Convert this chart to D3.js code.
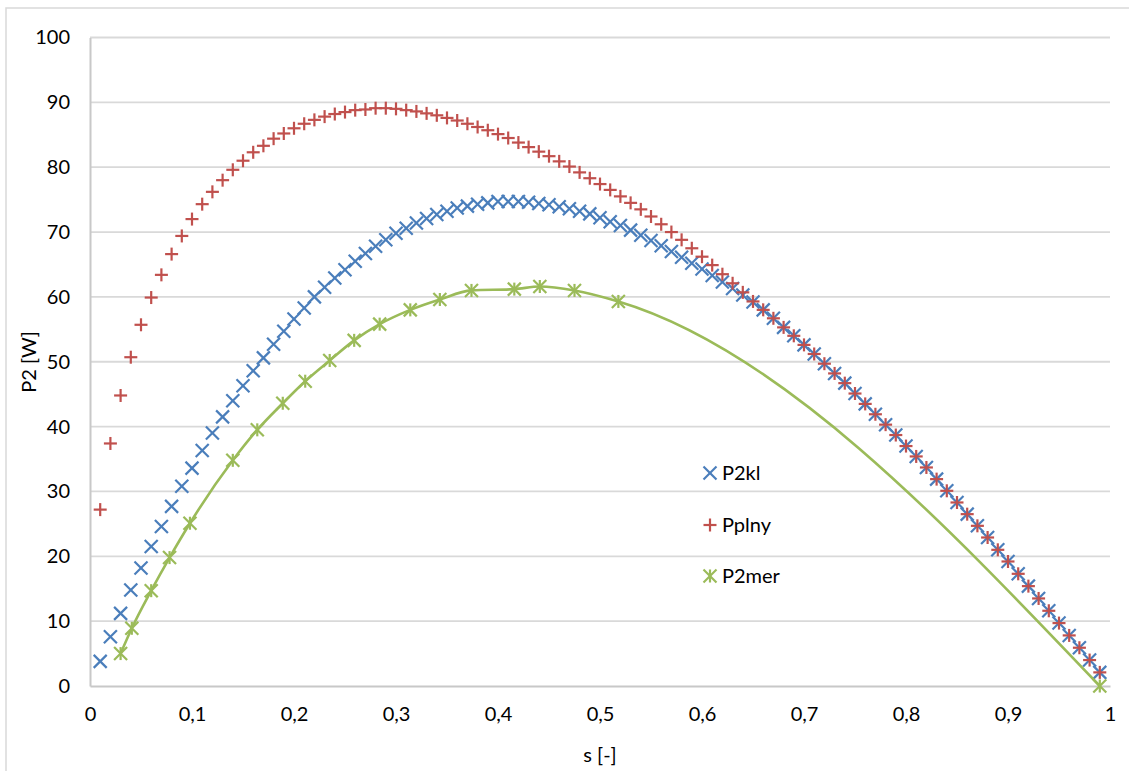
<!DOCTYPE html>
<html><head><meta charset="utf-8">
<script src="https://cdn.jsdelivr.net/npm/d3@7"></script>
<style>body{margin:0;background:#fff}svg{display:block}</style>
</head><body>
<svg id="chart" width="1129" height="771"></svg>
<script>
// ---- data ----
const sValues = [0.01,0.02,0.03,0.04,0.05,0.06,0.07,0.08,0.09,0.10,0.11,0.12,0.13,0.14,0.15,0.16,0.17,0.18,0.19,0.20,
0.21,0.22,0.23,0.24,0.25,0.26,0.27,0.28,0.29,0.30,0.31,0.32,0.33,0.34,0.35,0.36,0.37,0.38,0.39,0.40,
0.41,0.42,0.43,0.44,0.45,0.46,0.47,0.48,0.49,0.50,0.51,0.52,0.53,0.54,0.55,0.56,0.57,0.58,0.59,0.60,
0.61,0.62,0.63,0.64,0.65,0.66,0.67,0.68,0.69,0.70,0.71,0.72,0.73,0.74,0.75,0.76,0.77,0.78,0.79,0.80,
0.81,0.82,0.83,0.84,0.85,0.86,0.87,0.88,0.89,0.90,0.91,0.92,0.93,0.94,0.95,0.96,0.97,0.98,0.99];

const P2kl = [3.8,7.6,11.2,14.8,18.2,21.5,24.6,27.7,30.8,33.6,36.3,39.0,41.5,44.0,46.3,48.6,50.6,52.7,54.7,56.6,
58.3,60.0,61.5,62.9,64.2,65.5,66.7,67.8,68.8,69.8,70.6,71.4,72.1,72.7,73.2,73.7,74.0,74.3,74.5,74.7,
74.7,74.7,74.6,74.4,74.2,73.9,73.6,73.2,72.8,72.2,71.6,71.0,70.3,69.5,68.7,67.9,67.0,66.1,65.2,64.3,
63.3,62.3,61.3,60.3,59.2,58.0,56.7,55.3,54.0,52.6,51.2,49.7,48.2,46.7,45.1,43.5,41.9,40.3,38.7,37.0,
35.4,33.7,31.9,30.1,28.3,26.5,24.7,22.9,21.0,19.2,17.3,15.4,13.5,11.6,9.7,7.8,5.9,4.0,2.1];

const Pplny = [27.2,37.4,44.8,50.7,55.7,59.9,63.4,66.6,69.4,72.0,74.3,76.2,78.0,79.6,81.0,82.3,83.3,84.4,85.2,86.0,
86.7,87.3,87.8,88.2,88.5,88.8,88.9,89.1,89.1,89.0,88.8,88.6,88.3,88.0,87.6,87.2,86.7,86.2,85.7,85.1,
84.5,83.8,83.1,82.4,81.7,80.9,80.1,79.2,78.3,77.4,76.5,75.5,74.5,73.5,72.4,71.2,70.0,68.8,67.5,66.2,
64.9,63.5,62.1,60.7,59.3,58.0,56.7,55.3,54.0,52.6,51.2,49.7,48.2,46.7,45.1,43.5,41.9,40.3,38.7,37.0,
35.4,33.7,31.9,30.1,28.3,26.5,24.7,22.9,21.0,19.2,17.3,15.4,13.5,11.6,9.7,7.8,5.9,4.0,2.1];

const sMer = [0.030,0.041,0.060,0.078,0.098,0.140,0.164,0.189,0.211,0.235,0.259,0.284,0.314,0.343,0.374,0.416,0.441,0.475,0.518,0.990];
const P2mer = [5.0,8.9,14.7,19.8,25.1,34.8,39.5,43.6,47.0,50.2,53.3,55.8,58.0,59.6,61.0,61.2,61.6,61.0,59.3,0.0];

const xTicks = [0,0.1,0.2,0.3,0.4,0.5,0.6,0.7,0.8,0.9,1];
const xTickLabels = ["0","0,1","0,2","0,3","0,4","0,5","0,6","0,7","0,8","0,9","1"];
const yTicks = [0,10,20,30,40,50,60,70,80,90,100];
const seriesNames = ["P2kl","Pplny","P2mer"];
const seriesColors = ["#4A7EBB","#C0504D","#9BBB59"];

// ---- chart ----
const svg = d3.select("#chart");
const FONT = "Lato, 'Open Sans', sans-serif";
const x = d3.scaleLinear().domain([0,1]).range([90,1110]);
const y = d3.scaleLinear().domain([0,100]).range([686,37.5]);

svg.append("rect").attr("x",6).attr("y",8).attr("width",1140).attr("height",780)
  .attr("fill","#fff").attr("stroke","#d9d9d9").attr("stroke-width",1.5);

// gridlines
svg.append("g").selectAll("line").data(yTicks.filter(d=>d>0)).join("line")
  .attr("x1",x(0)).attr("x2",x(1)).attr("y1",d=>y(d)).attr("y2",d=>y(d))
  .attr("stroke","#d9d9d9").attr("stroke-width",1.8);

// axes
const yAxis = d3.axisLeft(y).tickValues(yTicks).tickSize(0).tickPadding(20).tickFormat(d=>String(d));
const gy = svg.append("g").attr("transform",`translate(${x(0)},0)`).call(yAxis);
gy.select(".domain").attr("stroke","#c8c8c8").attr("stroke-width",2);
gy.selectAll("text").attr("font-family",FONT).attr("font-size",20).attr("fill","#000");

const xAxis = d3.axisBottom(x).tickValues(xTicks).tickSize(0).tickPadding(21).tickFormat((d,i)=>xTickLabels[i]);
const gx = svg.append("g").attr("transform",`translate(0,${y(0)})`).call(xAxis);
gx.select(".domain").attr("stroke","#c8c8c8").attr("stroke-width",2);
gx.selectAll("text").attr("font-family",FONT).attr("font-size",20).attr("fill","#000");

// axis titles
svg.append("text").attr("x",600).attr("y",762).attr("text-anchor","middle")
  .attr("font-family",FONT).attr("font-size",20).text("s [-]");
svg.append("text").attr("transform","translate(36,362) rotate(-90)").attr("text-anchor","middle")
  .attr("font-family",FONT).attr("font-size",20).text("P2 [W]");

// marker shapes
const R = 6.5;
function drawX(g, color){ g.append("line").attr("x1",-R).attr("y1",-R).attr("x2",R).attr("y2",R).attr("stroke",color).attr("stroke-width",2.2);
  g.append("line").attr("x1",-R).attr("y1",R).attr("x2",R).attr("y2",-R).attr("stroke",color).attr("stroke-width",2.2); }
function drawPlus(g, color){ g.append("line").attr("x1",-R).attr("y1",0).attr("x2",R).attr("y2",0).attr("stroke",color).attr("stroke-width",2.2);
  g.append("line").attr("x1",0).attr("y1",-R).attr("x2",0).attr("y2",R).attr("stroke",color).attr("stroke-width",2.2); }
function drawStar(g, color){ drawX(g,color);
  g.append("line").attr("x1",0).attr("y1",-R).attr("x2",0).attr("y2",R).attr("stroke",color).attr("stroke-width",2.2); }
const drawers = [drawX, drawPlus, drawStar];

// P2kl
svg.append("g").selectAll("g").data(sValues.map((s,i)=>[s,P2kl[i]])).join("g")
  .attr("transform",d=>`translate(${x(d[0])},${y(d[1])})`).each(function(){ drawX(d3.select(this), seriesColors[0]); });
// Pplny
svg.append("g").selectAll("g").data(sValues.map((s,i)=>[s,Pplny[i]])).join("g")
  .attr("transform",d=>`translate(${x(d[0])},${y(d[1])})`).each(function(){ drawPlus(d3.select(this), seriesColors[1]); });
// P2mer line + markers
const merData = sMer.map((s,i)=>[s,P2mer[i]]);
svg.append("path").datum(merData)
  .attr("d", d3.line().x(d=>x(d[0])).y(d=>y(d[1])).curve(d3.curveMonotoneX))
  .attr("fill","none").attr("stroke",seriesColors[2]).attr("stroke-width",2.6);
svg.append("g").selectAll("g").data(merData).join("g")
  .attr("transform",d=>`translate(${x(d[0])},${y(d[1])})`).each(function(){ drawStar(d3.select(this), seriesColors[2]); });

// legend
const legY = [473,525,576];
seriesNames.forEach((name,i)=>{
  const g = svg.append("g").attr("transform",`translate(710,${legY[i]})`);
  drawers[i](g, seriesColors[i]);
  svg.append("text").attr("x",722).attr("y",legY[i]).attr("dy","0.35em")
    .attr("font-family",FONT).attr("font-size",20).attr("fill","#000").text(name);
});
</script>
</body></html>
